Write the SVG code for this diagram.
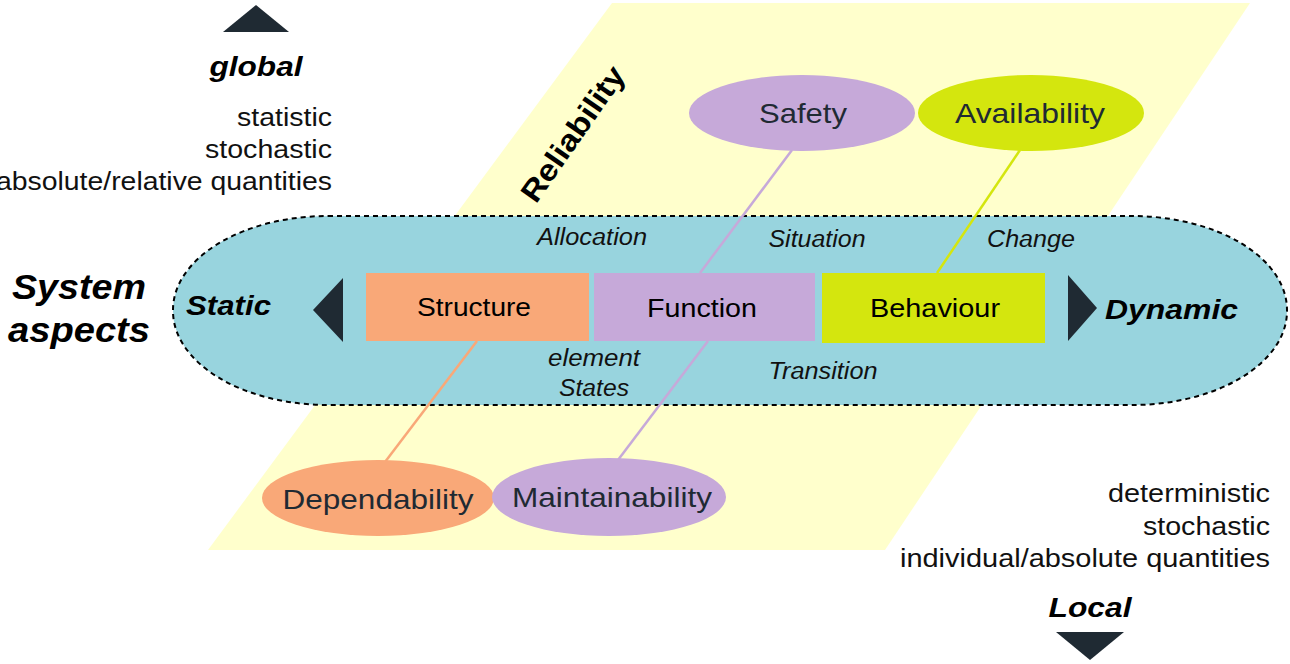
<svg xmlns="http://www.w3.org/2000/svg" width="1290" height="664" viewBox="0 0 1290 664">
<style>
text{font-family:"Liberation Sans",Arial,sans-serif;}
.bi{font-weight:bold;font-style:italic;fill:#000;}
.it{font-style:italic;font-size:23px;fill:#111;}
.side{font-size:26px;fill:#111;text-anchor:end;}
.lbl{font-size:28px;fill:#1F2A33;text-anchor:middle;}
.box{font-size:26px;fill:#000;text-anchor:middle;}
.tri{fill:#1F2A33;}
.link{stroke-width:2.5;fill:none;}
</style>
<rect width="1290" height="664" fill="#fff"/>
<g id="plane">
<polygon points="612,3 1250,3 885,550 208,550" fill="#FFFFCC"/>
<text font-weight="bold" font-size="30" fill="#000" text-anchor="middle" transform="translate(573,134) rotate(-55)" dy="10" textLength="158" lengthAdjust="spacingAndGlyphs">Reliability</text>
</g>
<g id="system">
<rect x="173" y="216" width="1114" height="189" rx="155" ry="94" fill="#98D4DE" stroke="#000" stroke-width="2" stroke-dasharray="5,4"/>
<text class="it" x="592" y="245" text-anchor="middle" textLength="110" lengthAdjust="spacingAndGlyphs">Allocation</text>
<text class="it" x="817" y="247" text-anchor="middle" textLength="97" lengthAdjust="spacingAndGlyphs">Situation</text>
<text class="it" x="1031" y="247" text-anchor="middle" textLength="88" lengthAdjust="spacingAndGlyphs">Change</text>
<text class="it" x="594" y="366" text-anchor="middle" textLength="92" lengthAdjust="spacingAndGlyphs">element</text>
<text class="it" x="594" y="396" text-anchor="middle" textLength="70" lengthAdjust="spacingAndGlyphs">States</text>
<text class="it" x="823" y="379" text-anchor="middle" textLength="109" lengthAdjust="spacingAndGlyphs">Transition</text>
</g>
<g id="connectors">
<line class="link" x1="792" y1="150" x2="700" y2="273" stroke="#C6A9D9"/>
<line class="link" x1="1020" y1="150" x2="937" y2="273" stroke="#D4E60E"/>
<line class="link" x1="477" y1="341" x2="385" y2="462" stroke="#F9A878"/>
<line class="link" x1="708" y1="341" x2="618" y2="460" stroke="#C6A9D9"/>
</g>
<g id="static">
<text class="bi" x="186" y="315" font-size="27" textLength="85" lengthAdjust="spacingAndGlyphs">Static</text>
<polygon class="tri" points="313,310 343,278 343,342"/>
</g>
<g id="structure">
<rect x="366" y="273" width="223" height="68" fill="#F9A878"/>
<text class="box" x="474" y="316" textLength="114" lengthAdjust="spacingAndGlyphs">Structure</text>
</g>
<g id="function">
<rect x="594" y="273" width="221" height="68" fill="#C6A9D9"/>
<text class="box" x="702" y="317" textLength="110" lengthAdjust="spacingAndGlyphs">Function</text>
</g>
<g id="behaviour">
<rect x="822" y="273" width="223" height="70" fill="#D4E60E"/>
<text class="box" x="935" y="317" textLength="130" lengthAdjust="spacingAndGlyphs">Behaviour</text>
</g>
<g id="dynamic">
<polygon class="tri" points="1068,275 1068,341 1097,308"/>
<text class="bi" x="1105" y="319" font-size="27" textLength="133" lengthAdjust="spacingAndGlyphs">Dynamic</text>
</g>
<g id="safety">
<ellipse cx="802" cy="113" rx="113" ry="38" fill="#C6A9D9"/>
<text class="lbl" x="803" y="123" textLength="88" lengthAdjust="spacingAndGlyphs">Safety</text>
</g>
<g id="availability">
<ellipse cx="1031" cy="113" rx="113" ry="38" fill="#D4E60E"/>
<text class="lbl" x="1030" y="123" textLength="150" lengthAdjust="spacingAndGlyphs">Availability</text>
</g>
<g id="dependability">
<ellipse cx="378" cy="498" rx="116" ry="38" fill="#F9A878"/>
<text class="lbl" x="378" y="509" textLength="191" lengthAdjust="spacingAndGlyphs">Dependability</text>
</g>
<g id="maintainability">
<ellipse cx="609" cy="497" rx="117" ry="39" fill="#C6A9D9"/>
<text class="lbl" x="612" y="507" textLength="200" lengthAdjust="spacingAndGlyphs">Maintainability</text>
</g>
<g id="system-aspects">
<text class="bi" x="79" y="299" font-size="35" text-anchor="middle" textLength="134" lengthAdjust="spacingAndGlyphs">System</text>
<text class="bi" x="79" y="342" font-size="35" text-anchor="middle" textLength="142" lengthAdjust="spacingAndGlyphs">aspects</text>
</g>
<g id="global">
<polygon class="tri" points="256,5 289,32 223,32"/>
<text class="bi" x="256" y="76" font-size="27" text-anchor="middle" textLength="93" lengthAdjust="spacingAndGlyphs">global</text>
<text class="side" x="332" y="126" textLength="95" lengthAdjust="spacingAndGlyphs">statistic</text>
<text class="side" x="332" y="158" textLength="127" lengthAdjust="spacingAndGlyphs">stochastic</text>
<text class="side" x="332" y="190" textLength="336" lengthAdjust="spacingAndGlyphs">absolute/relative quantities</text>
</g>
<g id="local">
<text class="side" x="1270" y="502" textLength="162" lengthAdjust="spacingAndGlyphs">deterministic</text>
<text class="side" x="1270" y="535" textLength="127" lengthAdjust="spacingAndGlyphs">stochastic</text>
<text class="side" x="1270" y="567" textLength="370" lengthAdjust="spacingAndGlyphs">individual/absolute quantities</text>
<text class="bi" x="1090" y="617" font-size="27" text-anchor="middle" textLength="83" lengthAdjust="spacingAndGlyphs">Local</text>
<polygon class="tri" points="1056,632 1124,632 1090,660"/>
</g>
</svg>
